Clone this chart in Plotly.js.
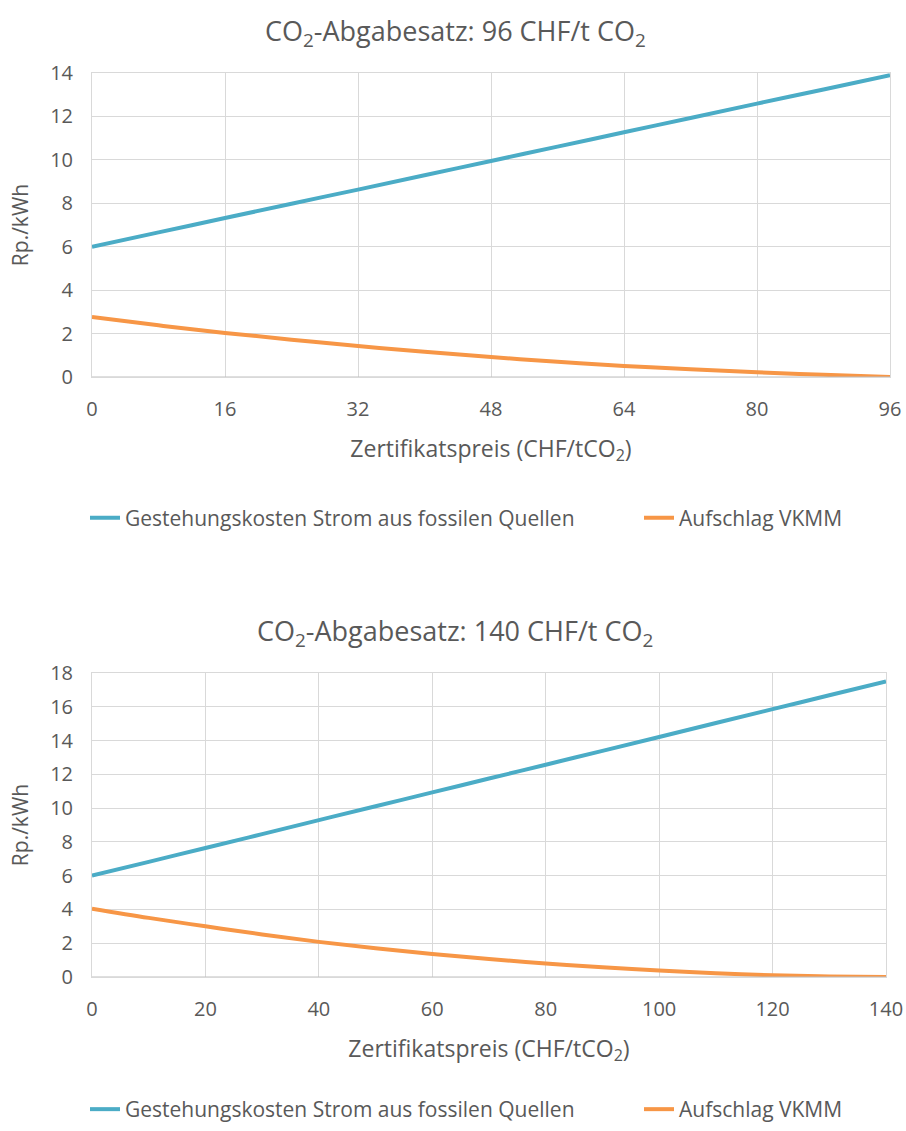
<!DOCTYPE html>
<html><head><meta charset="utf-8">
<script src="https://cdn.plot.ly/plotly-3.0.1.min.js"></script>
<style>body{margin:0;background:#fff}#c{width:906px;height:1131px}</style>
</head><body><div id="c"></div>
<script>
// Chart 1: CO2-Abgabesatz 96 CHF/t
const x1 = [0, 8, 16, 24, 32, 40, 48, 56, 64, 72, 80, 88, 96];
const blue1 = [6.0, 6.66, 7.32, 7.98, 8.63, 9.29, 9.95, 10.61, 11.27, 11.93, 12.59, 13.24, 13.9];
const orange1 = [2.76, 2.38, 2.03, 1.72, 1.43, 1.16, 0.92, 0.7, 0.51, 0.36, 0.22, 0.1, 0.0];
// Chart 2: CO2-Abgabesatz 140 CHF/t
const x2 = [0, 10, 20, 30, 40, 50, 60, 70, 80, 90, 100, 110, 120, 130, 140];
const blue2 = [6.0, 6.82, 7.64, 8.46, 9.29, 10.11, 10.93, 11.75, 12.57, 13.39, 14.21, 15.04, 15.86, 16.68, 17.5];
const orange2 = [4.05, 3.5, 3.0, 2.52, 2.08, 1.7, 1.36, 1.06, 0.8, 0.57, 0.38, 0.22, 0.1, 0.03, 0.0];
const ticks1 = [0, 16, 32, 48, 64, 80, 96];
const ticks2 = [0, 20, 40, 60, 80, 100, 120, 140];
const seriesNames = ["Gestehungskosten Strom aus fossilen Quellen", "Aufschlag VKMM"];
const titles = ["CO<sub>2</sub>-Abgabesatz: 96 CHF/t CO<sub>2</sub>", "CO<sub>2</sub>-Abgabesatz: 140 CHF/t CO<sub>2</sub>"];
const xTitle = "Zertifikatspreis (CHF/tCO<sub>2</sub>)";
const yTitle = "Rp./kWh";

const BLUE = "#4BACC6", ORANGE = "#F79646", TXT = "#595959", GRID = "#d9d9d9";
const FONT = "Open Sans, sans-serif";
const H = 1131, W = 906, L = 92, PW = 798, B = 40, PH = H - B;
const py = p => (PH - p) / PH;   // pixel row (from top) -> paper fraction

function tr(x, y, i, leg) {
  return {x: x, y: y, name: seriesNames[i], mode: "lines",
    line: {color: i === 0 ? BLUE : ORANGE, width: 4, shape: "spline"},
    xaxis: leg < 3 ? "x" : "x2", yaxis: leg < 3 ? "y" : "y2",
    legend: leg === 1 ? "legend" : "legend" + leg};
}
const traces = [tr(x1, blue1, 0, 1), tr(x1, orange1, 1, 2), tr(x2, blue2, 0, 3), tr(x2, orange2, 1, 4)];

function ax(extra) {
  return Object.assign({
    showgrid: true, gridcolor: GRID, gridwidth: 1, zeroline: false,
    showline: true, mirror: true, linecolor: GRID, linewidth: 1,
    ticks: "", tickfont: {family: FONT, size: 20, color: TXT}, fixedrange: true
  }, extra);
}
const xT = () => ({text: xTitle, font: {family: FONT, size: 23, color: TXT}, standoff: 19});
const yT = () => ({text: yTitle, font: {family: FONT, size: 21, color: TXT}, standoff: 15});

function leg(px, y, anchor) {
  return {orientation: "h", xref: "paper", yref: "paper", x: (px - L) / PW, y: y,
    xanchor: "left", yanchor: anchor, font: {family: FONT, size: 21, color: TXT},
    bgcolor: "rgba(0,0,0,0)", borderwidth: 0};
}

const layout = {
  width: W, height: H,
  margin: {l: L, r: 16, t: 0, b: B},
  paper_bgcolor: "#fff", plot_bgcolor: "#fff",
  font: {family: FONT, color: TXT},
  showlegend: true,
  xaxis: ax({domain: [0, 1], range: [0, 96], tickvals: ticks1, anchor: "y", ticklabelstandoff: 14, title: xT()}),
  yaxis: ax({domain: [py(377), py(73)], range: [0, 14], dtick: 2, anchor: "x", ticklabelstandoff: 14, title: yT()}),
  xaxis2: ax({domain: [0, 0.995], range: [0, 140], tickvals: ticks2, anchor: "y2", ticklabelstandoff: 14, title: xT()}),
  yaxis2: ax({domain: [py(977), py(673)], range: [0, 18], dtick: 2, anchor: "x2", ticklabelstandoff: 14, title: yT()}),
  legend: leg(85, py(518), "middle"),
  legend2: leg(639, py(518), "middle"),
  legend3: leg(85, py(1130), "bottom"),
  legend4: leg(639, py(1130), "bottom"),
  shapes: [
    {type: "line", xref: "x", yref: "y", x0: 0, x1: 96, y0: 0, y1: 0, line: {color: "#bfbfbf", width: 1}},
    {type: "line", xref: "x2", yref: "y2", x0: 0, x1: 140, y0: 0, y1: 0, line: {color: "#bfbfbf", width: 1}}
  ],
  annotations: [
    {text: titles[0], xref: "paper", yref: "paper", x: 0.455, y: py(32), xanchor: "center", yanchor: "middle", showarrow: false,
      font: {family: FONT, size: 27, color: TXT}},
    {text: titles[1], xref: "paper", yref: "paper", x: 0.455, y: py(632), xanchor: "center", yanchor: "middle", showarrow: false,
      font: {family: FONT, size: 27, color: TXT}}
  ]
};

Plotly.newPlot("c", traces, layout, {displayModeBar: false, staticPlot: true});
</script></body></html>
